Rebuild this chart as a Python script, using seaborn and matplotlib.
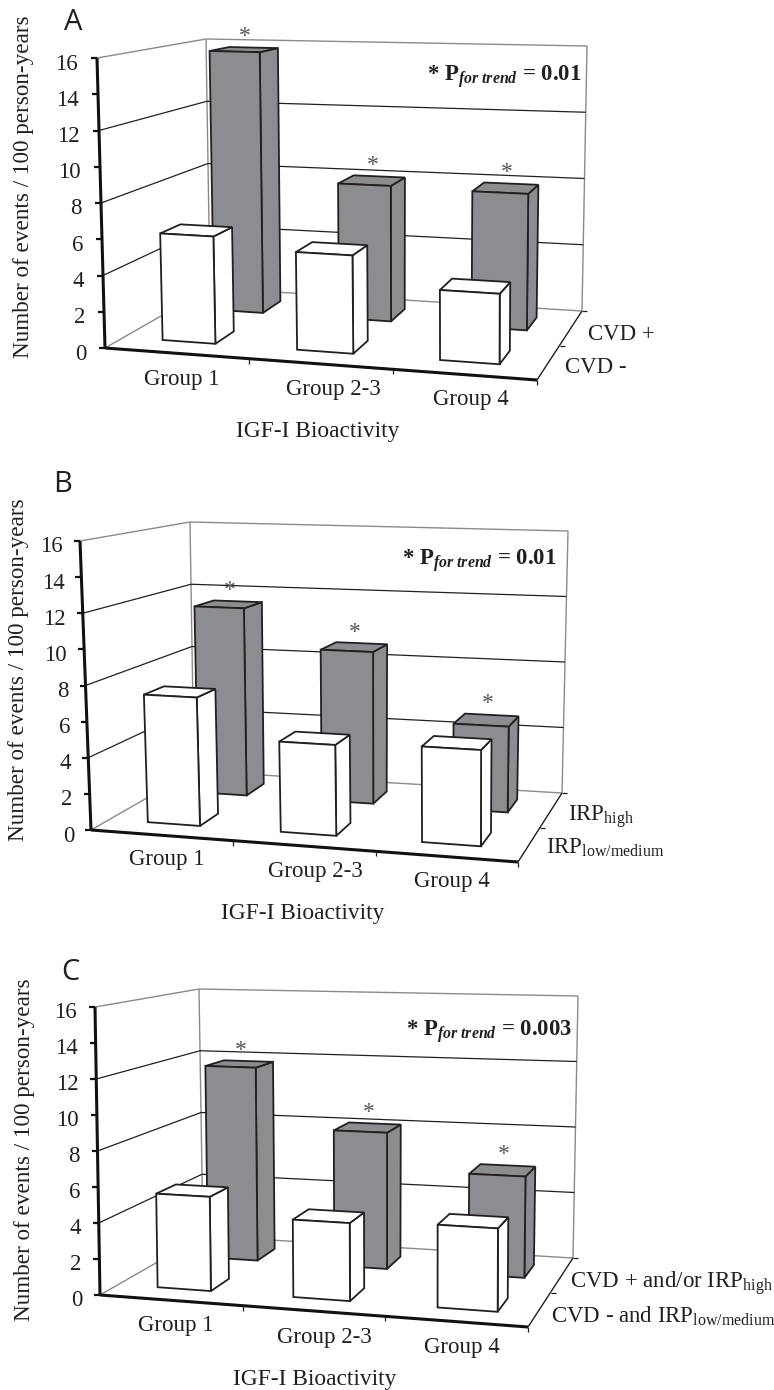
import numpy as np
import pandas as pd
import matplotlib
matplotlib.use('Agg')
import matplotlib.pyplot as plt
from matplotlib.patches import Polygon
from matplotlib.transforms import Transform, IdentityTransform
import seaborn as sns

W, H = 774, 1390

groups = ['Group 1', 'Group 2-3', 'Group 4']
value_ticks = [0, 2, 4, 6, 8, 10, 12, 14, 16]
wall_lines = [4, 8, 12]

# rates per panel, back row then front row
a_back = [15.7, 8.0, 7.9]
a_front = [6.0, 5.4, 3.8]
b_back = [11.3, 9.0, 5.0]
b_front = [7.2, 5.0, 5.2]
c_back = [11.7, 8.1, 5.9]
c_front = [5.3, 4.3, 4.5]

a_names = ['CVD +', 'CVD -']
b_names = ['IRP$_{\\mathrm{high}}$', 'IRP$_{\\mathrm{low/medium}}$']
c_names = ['CVD + and/or IRP$_{\\mathrm{high}}$', 'CVD - and IRP$_{\\mathrm{low/medium}}$']

a_trend = '0.01'
b_trend = '0.01'
c_trend = '0.003'

GREY = '#8c8d91'
INK = '#231f20'
WALL = '#8a8a8a'
SERIF = 'Liberation Serif'

sns.set_style('white')
plt.rcParams['font.family'] = [SERIF, 'DejaVu Sans']
plt.rcParams['mathtext.fontset'] = 'custom'
plt.rcParams['mathtext.rm'] = 'Liberation Serif'
plt.rcParams['mathtext.it'] = 'Liberation Serif:italic'
plt.rcParams['mathtext.bf'] = 'Liberation Serif:bold'
plt.rcParams['mathtext.bfit'] = 'Liberation Serif:italic:bold'
plt.rcParams['text.color'] = INK

# box corners in image pixels: front-left, front-right, back-left, back-right,
# each (bottom, top)
panels = [
    dict(letter='A', letter_xy=(73, 22), back=a_back, front=a_front, names=a_names, trend=a_trend,
         fl=((105, 348), (97, 58)), fr=((537, 380), (538, 74)),
         bl=((210, 288), (206, 39)), br=((582, 311), (587, 46)),
         ylabel_xy=(24, 187), xlabel_xy=(318, 431), trend_xy=(582, 81), stretch=0.0, tick_gap=19,
         group_xy=[(182, 379), (333, 389), (471, 400)],
         name_xy=[(588, 340), (565, 373)]),
    dict(letter='B', letter_xy=(63, 485), back=b_back, front=b_front, names=b_names, trend=b_trend,
         fl=((91, 830), (80, 541)), fr=((518, 862), (519, 556)),
         bl=((194, 771), (190, 522)), br=((562, 793), (568, 531)),
         ylabel_xy=(19, 670), xlabel_xy=(303, 913), trend_xy=(557, 565), stretch=0.0, tick_gap=17,
         group_xy=[(167, 860), (315, 871), (452, 882)],
         name_xy=[(568, 821), (546, 854)]),
    dict(letter='C', letter_xy=(70, 972), back=c_back, front=c_front, names=c_names, trend=c_trend,
         fl=((100, 1295), (95, 1007)), fr=((528, 1327), (529, 1021)),
         bl=((203, 1236), (199, 989)), br=((573, 1258), (578, 996)),
         ylabel_xy=(25, 1150), xlabel_xy=(315, 1380), trend_xy=(572, 1036), stretch=0.018, tick_gap=18,
         group_xy=[(176, 1326), (324, 1337), (462, 1347)],
         name_xy=[(570, 1288), (551, 1323)]),
]

BAR_WIDTH = 0.40
BAR_WARP = 0.09
FRONT_ROW = (0.18, 0.38)
BACK_ROW = (0.68, 0.87)
BACK_NUDGE = 0.004


def project(p, u, v, val):
    """group fraction u, depth v, value -> display coords"""
    z = np.asarray(val, dtype=float) / 16.0
    u = np.asarray(u, dtype=float)
    v = np.asarray(v, dtype=float)
    out = 0
    for key, wu, wv in (('fl', 1 - u, 1 - v), ('fr', u, 1 - v), ('bl', 1 - u, v), ('br', u, v)):
        bot, top = np.array(p[key][0], float), np.array(p[key][1], float)
        out = out + (wu * wv)[..., None] * (bot + z[..., None] * (top - bot))
    out = np.array(out)
    out[..., 1] = H - out[..., 1]
    return out


def bar_u(p, x, nudge=0.0):
    # category position -> fraction along the floor, bars spread out toward the right
    u = (np.asarray(x, dtype=float) + 0.5) / 3
    return (u - BAR_WARP * u * (1 - u)) * (1 + p['stretch']) + nudge


class RowTransform(Transform):
    # maps barplot data (category position, value) onto one depth of the box
    input_dims = 2
    output_dims = 2

    def __init__(self, panel, row_depth, nudge):
        super().__init__()
        self.panel = panel
        self.row_depth = row_depth
        self.nudge = nudge

    def transform_non_affine(self, xy):
        xy = np.asarray(xy, dtype=float)
        return project(self.panel, bar_u(self.panel, xy[:, 0], self.nudge),
                       np.full(len(xy), self.row_depth), xy[:, 1])


fig = plt.figure(figsize=(W / 100, H / 100), dpi=100, facecolor='white')
disp = IdentityTransform()


def seg(ax, a, b, color=INK, lw=1.0, z=2):
    ax.plot([a[0], b[0]], [a[1], b[1]], color=color, lw=lw, zorder=z, transform=disp,
            clip_on=False, solid_capstyle='butt')


def px(xy):
    return (xy[0], H - xy[1])


for p in panels:
    ax = fig.add_axes([0, 0, 1, 1])
    ax.set_axis_off()
    P = lambda u, v, val: project(p, np.array(u, float), np.array(v, float), np.array(val, float))

    # walls
    seg(ax, P(0, 0, 16), P(0, 1, 16), WALL, 1.0)
    seg(ax, P(0, 1, 16), P(1, 1, 16), WALL, 1.0)
    seg(ax, P(0, 1, 0), P(0, 1, 16), WALL, 1.0)
    seg(ax, P(1, 1, 0), P(1, 1, 16), WALL, 1.0)
    seg(ax, P(0, 0, 0), P(0, 1, 0), WALL, 1.0)
    seg(ax, P(0, 1, 0), P(1, 1, 0), WALL, 1.0)
    for val in wall_lines:
        seg(ax, P(0, 0, val), P(0, 1, val), INK, 0.9)
        seg(ax, P(0, 1, val), P(1, 1, val), INK, 0.9)

    # bars, back row first
    rows = [(p['back'], BACK_ROW, GREY, 3, BACK_NUDGE), (p['front'], FRONT_ROW, 'white', 5, 0.0)]
    for values, (v0, v1), colour, z, nudge in rows:
        df = pd.DataFrame({'group': groups, 'rate': values})
        n = len(ax.patches)
        sns.barplot(data=df, x='group', y='rate', color=colour, saturation=1, width=BAR_WIDTH,
                    edgecolor=INK, linewidth=1.3, ax=ax, zorder=z)
        tr = RowTransform(p, v0, nudge)
        for rect in list(ax.patches)[n:n + 3]:
            x0, x1 = rect.get_x(), rect.get_x() + rect.get_width()
            h = rect.get_height()
            u0, u1 = bar_u(p, x0, nudge), bar_u(p, x1, nudge)
            rect.set_transform(tr)
            rect.set_clip_on(False)
            rect.set_zorder(z + 0.5)
            rect.set_joinstyle('miter')
            side = [P(u1, v0, 0), P(u1, v1, 0), P(u1, v1, h), P(u1, v0, h)]
            top = [P(u0, v0, h), P(u1, v0, h), P(u1, v1, h), P(u0, v1, h)]
            for face in (side, top):
                ax.add_patch(Polygon(np.array(face), closed=True, facecolor=colour, edgecolor=INK,
                                     lw=1.3, transform=disp, clip_on=False, zorder=z,
                                     joinstyle='miter'))
            if colour == GREY:
                cx = P((u0 + u1) / 2, (v0 + v1) / 2, h)[0]
                cy = P((u0 + u1) / 2, v1, h)[1]
                ax.text(cx + 1, cy + 11, '*', transform=disp, ha='center', va='center', fontsize=17,
                        color='#555558', zorder=9, clip_on=False)
    ax.set_xlim(-0.5, 2.5)
    ax.set_ylim(0, 16)
    ax.set_xlabel('')
    ax.set_ylabel('')

    # axes over the floor
    seg(ax, P(0, 0, 0), P(0, 0, 16), '#111111', 2.2, 7)
    seg(ax, P(0, 0, 0), P(1, 0, 0), '#111111', 2.2, 7)
    seg(ax, P(1, 0, 0), P(1, 1, 0), INK, 1.0, 7)
    for val in value_ticks:
        a = P(0, 0, val)
        seg(ax, a, a + np.array([-6, 0]), '#111111', 1.6, 7)
        ax.text(a[0] - p['tick_gap'], a[1] - 6, str(val), transform=disp, ha='right', va='center',
                fontsize=16.5)
    for u in (1 / 3, 2 / 3, 1):
        a = P(u, 0, 0)
        seg(ax, a, a + np.array([0, -5]), INK, 0.9, 7)
    for v in (0.5, 1):
        a = P(1, v, 0)
        seg(ax, a, a + np.array([5, 0]), INK, 0.9, 7)

    # text
    for name, xy in zip(groups, p['group_xy']):
        ax.text(*px(xy), name, transform=disp, ha='center', va='center', fontsize=16.5)
    for name, xy in zip(p['names'], p['name_xy']):
        ax.text(*px(xy), name, transform=disp, ha='left', va='baseline', fontsize=16.5)
    ax.text(*px(p['xlabel_xy']), 'IGF-I Bioactivity', transform=disp, ha='center', va='center',
            fontsize=16.8)
    ax.text(*px(p['ylabel_xy']), 'Number of events / 100 person-years', transform=disp, ha='center',
            va='center', rotation=90, fontsize=16.7)
    ax.text(*px(p['trend_xy']), '* P$_{\\mathbfit{for\\ trend}}$ = ' + p['trend'], transform=disp,
            ha='right', va='baseline', fontsize=16.4, fontweight='bold', zorder=9)
    ax.text(*px(p['letter_xy']), p['letter'], transform=disp, ha='center', va='center', fontsize=21,
            family='Open Sans')

fig.savefig('out.png', dpi=100, facecolor='white')
